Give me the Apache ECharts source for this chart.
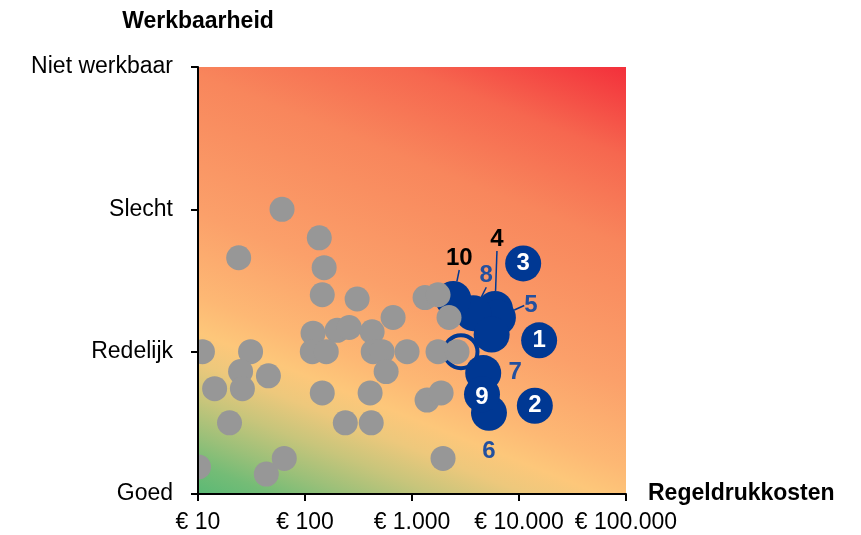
<!DOCTYPE html>
<html><head><meta charset="utf-8">
<script src="https://cdn.jsdelivr.net/npm/echarts@6/dist/echarts.min.js"></script>
<style>html,body{margin:0;padding:0;background:#fff}#c{width:861px;height:535px}</style>
</head><body><div id="c"></div>
<script>
// ---- data ----
const xTickLabels = ['€ 10', '€ 100', '€ 1.000', '€ 10.000', '€ 100.000'];
const yTickLabels = ['Goed', 'Redelijk', 'Slecht', 'Niet werkbaar'];

const grayCost  = [61, 24, 136, 151, 145, 307, 666, 1325, 1751, 2218,
                   119, 200, 259, 424, 117, 158, 434, 526, 573, 899,
                   1751, 2634, 11, 31, 25, 26, 14.3, 45.5, 145, 406,
                   1383, 1871, 19.7, 238, 416, 1950, 10.1, 64, 43.5];
const grayScore = [2.00, 1.66, 1.80, 1.59, 1.40, 1.37, 1.24, 1.38, 1.40, 1.24,
                   1.13, 1.15, 1.17, 1.14, 1.00, 1.00, 1.00, 1.00, 0.86, 1.00,
                   1.00, 1.00, 1.00, 1.00, 0.86, 0.74, 0.74, 0.83, 0.71, 0.71,
                   0.66, 0.71, 0.50, 0.50, 0.50, 0.25, 0.19, 0.25, 0.14];

const blueLabels = ['1', '2', '3', '4', '5', '6', '7', '8', '9', '10', ''];
const blueCost   = [15420, 14060, 10940, 5960, 6350, 5240, 4630, 3740, 4510, 2430, 5550];
const blueScore  = [1.08, 0.62, 1.62, 1.30, 1.24, 0.57, 0.85, 1.27, 0.70, 1.37, 1.12];

const ringCost  = [2870];
const ringScore = [1.00];

// ---- styles ----
const BLUE = '#003893';
const LBLUE = '#23509F';
const GRAY = '#979797';
const FONT = '"Liberation Sans", Arial, sans-serif';
const labelStyles = {
  '1':  { dx: 0,  dy: 0,   color: '#fff' },
  '2':  { dx: 0,  dy: 0,   color: '#fff' },
  '3':  { dx: 0,  dy: 0,   color: '#fff' },
  '9':  { dx: 0,  dy: 3,   color: '#fff' },
  '4':  { dx: 2,  dy: -70, color: '#000', line: true },
  '10': { dx: 6,  dy: -41, color: '#000', line: true },
  '8':  { dx: 13, dy: -38, color: LBLUE, line: true },
  '5':  { dx: 33, dy: -12, color: LBLUE, line: true },
  '7':  { dx: 32, dy: -1,  color: LBLUE },
  '6':  { dx: 0,  dy: 39,  color: LBLUE },
  '':   { dx: 0,  dy: 0,   color: '#fff' }
};

const blueData = blueLabels.map((lab, i) => {
  const s = labelStyles[lab];
  return {
    name: lab,
    value: [blueCost[i], blueScore[i]],
    label: { color: s.color },
    labelLine: { show: !!s.line }
  };
});
const grayData = grayCost.map((c, i) => [c, grayScore[i]]);
const ringData = ringCost.map((c, i) => [c, ringScore[i]]);

const bg = new echarts.graphic.LinearGradient(0, 1, 0.483, -0.207, [
  { offset: 0,    color: '#5BB975' },
  { offset: 0.05, color: '#74BC76' },
  { offset: 0.10, color: '#9CC079' },
  { offset: 0.16, color: '#C8C57B' },
  { offset: 0.22, color: '#EDC87C' },
  { offset: 0.27, color: '#FDC77A' },
  { offset: 0.33, color: '#FDB874' },
  { offset: 0.47, color: '#FBA06A' },
  { offset: 0.70, color: '#F8865C' },
  { offset: 0.85, color: '#F6674F' },
  { offset: 1,    color: '#F3303B' }
]);

const chart = echarts.init(document.getElementById('c'), null, { renderer: 'canvas' });
chart.setOption({
  animation: false,
  textStyle: { fontFamily: FONT },
  grid: { left: 198, right: 235, top: 67, bottom: 41, show: true, borderWidth: 0, backgroundColor: bg },
  xAxis: {
    type: 'log', logBase: 10, min: 10, max: 100000, z: 5,
    name: 'Regeldrukkosten', nameLocation: 'end', nameGap: 22,
    nameTextStyle: { fontFamily: FONT, fontSize: 23, fontWeight: 'bold', color: '#000', verticalAlign: 'middle' },
    axisLine: { show: true, lineStyle: { color: '#000', width: 2 } },
    axisTick: { show: true, length: 7, lineStyle: { color: '#000', width: 2 } },
    minorTick: { show: false },
    splitLine: { show: false },
    axisLabel: {
      fontFamily: FONT, fontSize: 23, color: '#000', margin: 17,
      showMinLabel: true, showMaxLabel: true,
      formatter: v => xTickLabels[Math.round(Math.log10(v)) - 1] || ''
    }
  },
  yAxis: {
    type: 'value', min: 0, max: 3, interval: 1, z: 5,
    name: 'Werkbaarheid', nameLocation: 'end', nameGap: 34,
    nameTextStyle: { fontFamily: FONT, fontSize: 23, fontWeight: 'bold', color: '#000' },
    axisLine: { show: true, lineStyle: { color: '#000', width: 2 } },
    axisTick: { show: true, length: 7, lineStyle: { color: '#000', width: 2 } },
    splitLine: { show: false },
    axisLabel: {
      fontFamily: FONT, fontSize: 23, color: '#000', margin: 25,
      formatter: v => yTickLabels[v] || ''
    }
  },
  series: [
    {
      type: 'scatter', z: 2, data: ringData, symbolSize: 33,
      itemStyle: { color: 'rgba(0,0,0,0)', borderColor: BLUE, borderWidth: 4, opacity: 1 },
      silent: true
    },
    {
      type: 'scatter', z: 2, data: blueData, symbolSize: 36,
      itemStyle: { color: BLUE, opacity: 1 },
      label: {
        show: true, position: 'inside', formatter: '{b}',
        fontFamily: FONT, fontSize: 24, fontWeight: 'bold'
      },
      labelLine: { show: false, lineStyle: { color: BLUE, width: 1.5 } },
      labelLayout: p => {
        const s = labelStyles[blueLabels[p.dataIndex]];
        return { dx: s.dx, dy: s.dy };
      },
      silent: true
    },
    {
      type: 'custom', z: 3, clip: true, data: grayData,
      encode: { x: 0, y: 1 },
      renderItem: (params, api) => {
        const p = api.coord([api.value(0), api.value(1)]);
        return { type: 'circle', shape: { cx: p[0], cy: p[1], r: 12.5 }, style: { fill: GRAY } };
      },
      silent: true
    }
  ]
});
</script>
</body></html>
